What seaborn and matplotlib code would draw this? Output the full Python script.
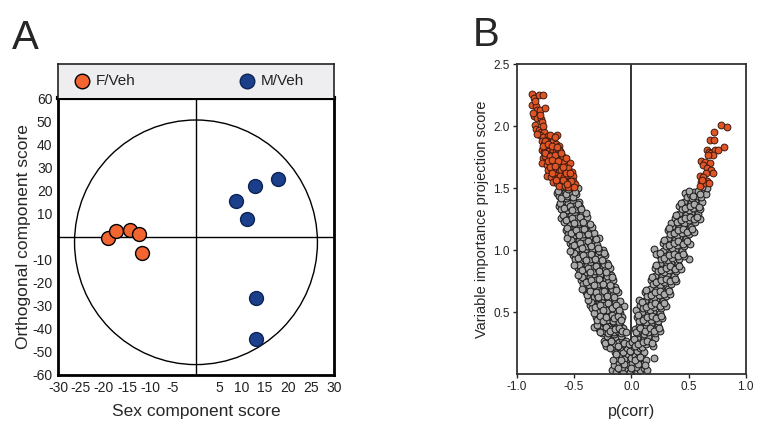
import pandas as pd
import matplotlib.pyplot as plt
import seaborn as sns
from matplotlib.patches import Ellipse

# ---------------- data ----------------
# Panel A: OPLS-DA scores
f_veh_sex = [-19.1, -17.4, -14.4, -12.3, -11.8]
f_veh_orth = [-0.5, 2.4, 2.8, 1.2, -7.0]
m_veh_sex = [8.8, 11.1, 12.8, 17.8, 13.0, 13.0]
m_veh_orth = [15.4, 7.7, 22.0, 24.8, -26.8, -44.3]
groups = ["F/Veh", "M/Veh"]
xticks_a = [-30, -25, -20, -15, -10, -5, 5, 10, 15, 20, 25, 30]
yticks_a = [-60, -50, -40, -30, -20, -10, 10, 20, 30, 40, 50, 60]

# Panel B: p(corr) vs VIP, (pcorr, vip)
grey_bottom = [
    (-0.17, 0.03), (-0.13, 0.02), (-0.10, 0.04), (-0.07, 0.02), (-0.04, 0.05), (-0.01, 0.02),
    (0.02, 0.04), (0.05, 0.02), (0.08, 0.03), (0.11, 0.05), (0.14, 0.03),
    (-0.15, 0.07), (-0.11, 0.09), (-0.08, 0.06), (-0.05, 0.10), (-0.02, 0.07), (0.01, 0.09),
    (0.04, 0.06), (0.07, 0.10), (0.10, 0.08), (0.13, 0.11),
    (-0.12, 0.13), (-0.09, 0.15), (-0.06, 0.12), (-0.03, 0.16), (0.00, 0.13), (0.03, 0.15),
    (0.06, 0.13), (0.09, 0.16),
    (-0.14, 0.18), (-0.10, 0.20), (-0.07, 0.18), (-0.04, 0.21), (-0.01, 0.19), (0.02, 0.22),
    (0.05, 0.19), (0.08, 0.21), (0.11, 0.18),
    (-0.16, 0.11), (-0.12, 0.05), (-0.06, 0.08), (0.00, 0.05), (0.06, 0.08), (0.12, 0.07),
    (-0.09, 0.11), (0.03, 0.11), (-0.13, 0.16), (0.08, 0.14),
]
grey_left = [
    (-0.24, 0.27), (-0.22, 0.23), (-0.20, 0.29), (-0.19, 0.25), (-0.17, 0.22), (-0.16, 0.28),
    (-0.14, 0.24), (-0.13, 0.30), (-0.11, 0.26), (-0.10, 0.22), (-0.08, 0.28), (-0.07, 0.24),
    (-0.05, 0.27), (-0.21, 0.31), (-0.15, 0.32), (-0.09, 0.31),
    (-0.28, 0.36), (-0.26, 0.33), (-0.25, 0.39), (-0.23, 0.35), (-0.21, 0.37), (-0.20, 0.33),
    (-0.18, 0.40), (-0.17, 0.36), (-0.15, 0.34), (-0.13, 0.38), (-0.12, 0.35), (-0.10, 0.40),
    (-0.09, 0.33), (-0.07, 0.37), (-0.24, 0.41), (-0.16, 0.42), (-0.33, 0.38),
    (-0.31, 0.46), (-0.29, 0.43), (-0.28, 0.49), (-0.26, 0.45), (-0.24, 0.42), (-0.23, 0.48),
    (-0.21, 0.44), (-0.19, 0.50), (-0.18, 0.46), (-0.16, 0.43), (-0.14, 0.48), (-0.13, 0.45),
    (-0.11, 0.42), (-0.10, 0.49), (-0.08, 0.46), (-0.27, 0.52), (-0.20, 0.53), (-0.06, 0.55),
    (-0.36, 0.56), (-0.34, 0.53), (-0.33, 0.59), (-0.31, 0.55), (-0.29, 0.52), (-0.28, 0.58),
    (-0.26, 0.54), (-0.24, 0.60), (-0.23, 0.56), (-0.21, 0.52), (-0.19, 0.58), (-0.18, 0.55),
    (-0.16, 0.51), (-0.14, 0.57), (-0.12, 0.54), (-0.10, 0.59), (-0.30, 0.61), (-0.22, 0.62),
    (-0.40, 0.66), (-0.38, 0.63), (-0.37, 0.69), (-0.35, 0.65), (-0.33, 0.62), (-0.32, 0.68),
    (-0.30, 0.64), (-0.28, 0.70), (-0.27, 0.66), (-0.25, 0.63), (-0.23, 0.69), (-0.22, 0.65),
    (-0.20, 0.61), (-0.18, 0.67), (-0.16, 0.64), (-0.14, 0.70), (-0.12, 0.66), (-0.34, 0.71),
    (-0.26, 0.72),
    (-0.44, 0.76), (-0.42, 0.73), (-0.41, 0.79), (-0.39, 0.75), (-0.37, 0.72), (-0.36, 0.78),
    (-0.34, 0.74), (-0.32, 0.80), (-0.31, 0.76), (-0.29, 0.73), (-0.27, 0.79), (-0.26, 0.75),
    (-0.24, 0.71), (-0.22, 0.77), (-0.20, 0.74), (-0.18, 0.80), (-0.16, 0.76), (-0.38, 0.82),
    (-0.30, 0.83),
    (-0.47, 0.86), (-0.45, 0.83), (-0.44, 0.89), (-0.42, 0.85), (-0.40, 0.82), (-0.39, 0.88),
    (-0.37, 0.84), (-0.35, 0.90), (-0.34, 0.86), (-0.32, 0.83), (-0.30, 0.89), (-0.29, 0.85),
    (-0.27, 0.81), (-0.25, 0.87), (-0.23, 0.84), (-0.21, 0.90), (-0.19, 0.86), (-0.41, 0.92),
    (-0.33, 0.93),
    (-0.51, 0.96), (-0.49, 0.93), (-0.48, 0.99), (-0.46, 0.95), (-0.44, 0.92), (-0.43, 0.98),
    (-0.41, 0.94), (-0.39, 1.00), (-0.38, 0.96), (-0.36, 0.93), (-0.34, 0.99), (-0.33, 0.95),
    (-0.31, 0.91), (-0.29, 0.97), (-0.27, 0.94), (-0.25, 1.00), (-0.23, 0.96), (-0.45, 1.02),
    (-0.37, 1.03),
    (-0.54, 1.06), (-0.52, 1.03), (-0.51, 1.09), (-0.49, 1.05), (-0.47, 1.02), (-0.46, 1.08),
    (-0.44, 1.04), (-0.42, 1.10), (-0.41, 1.06), (-0.39, 1.03), (-0.37, 1.09), (-0.36, 1.05),
    (-0.34, 1.01), (-0.32, 1.07), (-0.30, 1.04), (-0.28, 1.10), (-0.48, 1.12), (-0.40, 1.13),
    (-0.57, 1.16), (-0.55, 1.13), (-0.54, 1.19), (-0.52, 1.15), (-0.50, 1.12), (-0.49, 1.18),
    (-0.47, 1.14), (-0.45, 1.20), (-0.44, 1.16), (-0.42, 1.13), (-0.40, 1.19), (-0.39, 1.15),
    (-0.37, 1.11), (-0.35, 1.17), (-0.33, 1.14), (-0.51, 1.22), (-0.43, 1.23),
    (-0.61, 1.26), (-0.59, 1.23), (-0.58, 1.29), (-0.56, 1.25), (-0.54, 1.22), (-0.53, 1.28),
    (-0.51, 1.24), (-0.49, 1.30), (-0.48, 1.26), (-0.46, 1.23), (-0.44, 1.29), (-0.43, 1.25),
    (-0.41, 1.21), (-0.39, 1.27), (-0.55, 1.32), (-0.47, 1.33),
    (-0.63, 1.36), (-0.61, 1.33), (-0.60, 1.39), (-0.58, 1.35), (-0.56, 1.32), (-0.55, 1.38),
    (-0.53, 1.34), (-0.51, 1.40), (-0.50, 1.36), (-0.48, 1.33), (-0.46, 1.39), (-0.45, 1.35),
    (-0.43, 1.31), (-0.57, 1.42), (-0.52, 1.43),
    (-0.65, 1.46), (-0.63, 1.44), (-0.62, 1.49), (-0.60, 1.45), (-0.58, 1.47), (-0.56, 1.44),
    (-0.54, 1.48), (-0.52, 1.46), (-0.50, 1.49), (-0.48, 1.45), (-0.47, 1.50), (-0.59, 1.51),
    (-0.53, 1.51),
]
grey_left_extra = [
    (-0.23, 0.25), (-0.18, 0.27), (-0.12, 0.23), (-0.06, 0.25), (-0.02, 0.24), (-0.19, 0.21),
    (-0.27, 0.34), (-0.22, 0.38), (-0.19, 0.35), (-0.14, 0.36), (-0.11, 0.37), (-0.08, 0.35),
    (-0.05, 0.34), (-0.30, 0.40),
    (-0.30, 0.44), (-0.27, 0.47), (-0.25, 0.43), (-0.22, 0.46), (-0.17, 0.48), (-0.15, 0.45),
    (-0.12, 0.47), (-0.09, 0.44), (-0.33, 0.49),
    (-0.35, 0.58), (-0.32, 0.54), (-0.27, 0.56), (-0.25, 0.52), (-0.20, 0.57), (-0.17, 0.53),
    (-0.13, 0.56), (-0.11, 0.52), (-0.38, 0.60),
    (-0.39, 0.64), (-0.36, 0.67), (-0.31, 0.66), (-0.29, 0.62), (-0.24, 0.67), (-0.21, 0.63),
    (-0.17, 0.69), (-0.15, 0.62), (-0.13, 0.68), (-0.43, 0.69),
    (-0.43, 0.78), (-0.40, 0.74), (-0.35, 0.76), (-0.33, 0.72), (-0.28, 0.77), (-0.25, 0.73),
    (-0.21, 0.79), (-0.19, 0.72), (-0.17, 0.78), (-0.47, 0.80),
    (-0.46, 0.88), (-0.43, 0.84), (-0.38, 0.86), (-0.36, 0.82), (-0.31, 0.87), (-0.28, 0.83),
    (-0.24, 0.89), (-0.22, 0.82), (-0.20, 0.88), (-0.50, 0.88),
    (-0.50, 0.98), (-0.47, 0.94), (-0.42, 0.96), (-0.40, 0.92), (-0.35, 0.97), (-0.32, 0.93),
    (-0.28, 0.99), (-0.26, 0.92), (-0.24, 0.98), (-0.54, 0.99),
    (-0.53, 1.08), (-0.50, 1.04), (-0.45, 1.06), (-0.43, 1.02), (-0.38, 1.07), (-0.35, 1.03),
    (-0.31, 1.09), (-0.29, 1.02), (-0.56, 1.10),
    (-0.56, 1.18), (-0.53, 1.14), (-0.48, 1.16), (-0.46, 1.12), (-0.41, 1.17), (-0.38, 1.13),
    (-0.34, 1.19), (-0.36, 1.21),
    (-0.60, 1.28), (-0.57, 1.24), (-0.52, 1.26), (-0.50, 1.22), (-0.45, 1.27), (-0.42, 1.23),
    (-0.40, 1.30),
    (-0.62, 1.38), (-0.59, 1.34), (-0.54, 1.36), (-0.52, 1.32), (-0.47, 1.37), (-0.44, 1.33),
    (-0.64, 1.48), (-0.61, 1.42), (-0.57, 1.45), (-0.55, 1.49), (-0.51, 1.43), (-0.49, 1.47),
]
grey_right = [
    (0.01, 0.26), (0.03, 0.23), (0.05, 0.29), (0.07, 0.25), (0.09, 0.22), (0.11, 0.28),
    (0.13, 0.24), (0.15, 0.30), (0.17, 0.26), (0.19, 0.23), (0.21, 0.29), (0.20, 0.13),
    (0.03, 0.36), (0.05, 0.33), (0.07, 0.39), (0.09, 0.35), (0.11, 0.32), (0.13, 0.38),
    (0.15, 0.34), (0.17, 0.40), (0.19, 0.36), (0.21, 0.33), (0.23, 0.39), (0.25, 0.35),
    (0.05, 0.46), (0.07, 0.43), (0.09, 0.49), (0.11, 0.45), (0.13, 0.42), (0.15, 0.48),
    (0.17, 0.44), (0.19, 0.50), (0.21, 0.46), (0.23, 0.43), (0.25, 0.49), (0.27, 0.45),
    (0.04, 0.52),
    (0.08, 0.56), (0.10, 0.53), (0.12, 0.59), (0.14, 0.55), (0.16, 0.52), (0.18, 0.58),
    (0.20, 0.54), (0.22, 0.60), (0.24, 0.56), (0.26, 0.53), (0.28, 0.59), (0.30, 0.55),
    (0.07, 0.60),
    (0.12, 0.66), (0.14, 0.63), (0.16, 0.69), (0.18, 0.65), (0.20, 0.62), (0.22, 0.68),
    (0.24, 0.64), (0.26, 0.70), (0.28, 0.66), (0.30, 0.63), (0.32, 0.69), (0.34, 0.65),
    (0.17, 0.76), (0.19, 0.73), (0.21, 0.79), (0.23, 0.75), (0.25, 0.72), (0.27, 0.78),
    (0.29, 0.74), (0.31, 0.80), (0.33, 0.76), (0.35, 0.73), (0.37, 0.79), (0.39, 0.75),
    (0.21, 0.86), (0.23, 0.83), (0.25, 0.89), (0.27, 0.85), (0.29, 0.82), (0.31, 0.88),
    (0.33, 0.84), (0.35, 0.90), (0.37, 0.86), (0.39, 0.83), (0.41, 0.89), (0.43, 0.85),
    (0.50, 0.93),
    (0.24, 0.96), (0.26, 0.93), (0.28, 0.99), (0.30, 0.95), (0.32, 0.92), (0.34, 0.98),
    (0.36, 0.94), (0.38, 1.00), (0.40, 0.96), (0.42, 0.93), (0.44, 0.99), (0.46, 0.95),
    (0.20, 1.01), (0.22, 0.97),
    (0.28, 1.06), (0.30, 1.03), (0.32, 1.09), (0.34, 1.05), (0.36, 1.02), (0.38, 1.08),
    (0.40, 1.04), (0.42, 1.10), (0.44, 1.06), (0.46, 1.03), (0.48, 1.09), (0.51, 1.05),
    (0.32, 1.16), (0.34, 1.13), (0.36, 1.19), (0.38, 1.15), (0.40, 1.12), (0.42, 1.18),
    (0.44, 1.14), (0.46, 1.20), (0.48, 1.16), (0.50, 1.13), (0.52, 1.19), (0.55, 1.15),
    (0.35, 1.22), (0.38, 1.26), (0.40, 1.23), (0.42, 1.29), (0.44, 1.25), (0.46, 1.22),
    (0.48, 1.28), (0.50, 1.24), (0.52, 1.30), (0.54, 1.26), (0.56, 1.23), (0.58, 1.29),
    (0.60, 1.25),
    (0.42, 1.36), (0.44, 1.33), (0.46, 1.39), (0.48, 1.35), (0.50, 1.32), (0.52, 1.38),
    (0.54, 1.34), (0.56, 1.40), (0.58, 1.36), (0.60, 1.33), (0.62, 1.39),
    (0.47, 1.46), (0.49, 1.43), (0.51, 1.45), (0.53, 1.42), (0.55, 1.47), (0.57, 1.44),
    (0.59, 1.46), (0.61, 1.43), (0.63, 1.48), (0.65, 1.45), (0.66, 1.50), (0.62, 1.51),
]
grey_right_extra = [
    (0.02, 0.28), (0.06, 0.24), (0.10, 0.26), (0.14, 0.27), (0.18, 0.25),
    (0.04, 0.34), (0.08, 0.37), (0.12, 0.35), (0.16, 0.37), (0.20, 0.35), (0.24, 0.37),
    (0.06, 0.48), (0.10, 0.44), (0.14, 0.46), (0.18, 0.47), (0.22, 0.45), (0.26, 0.47),
    (0.09, 0.58), (0.13, 0.54), (0.17, 0.56), (0.21, 0.57), (0.25, 0.55), (0.29, 0.57),
    (0.13, 0.68), (0.17, 0.64), (0.21, 0.66), (0.25, 0.67), (0.29, 0.65), (0.33, 0.67),
    (0.18, 0.78), (0.22, 0.74), (0.26, 0.76), (0.30, 0.77), (0.34, 0.75), (0.38, 0.77),
    (0.22, 0.88), (0.26, 0.84), (0.30, 0.86), (0.34, 0.87), (0.38, 0.85), (0.42, 0.87),
    (0.25, 0.98), (0.29, 0.94), (0.33, 0.96), (0.37, 0.97), (0.41, 0.95), (0.45, 0.97),
    (0.29, 1.08), (0.33, 1.04), (0.37, 1.06), (0.41, 1.07), (0.45, 1.05), (0.49, 1.07),
    (0.33, 1.18), (0.37, 1.14), (0.41, 1.16), (0.45, 1.17), (0.49, 1.15), (0.53, 1.17),
    (0.39, 1.28), (0.43, 1.24), (0.47, 1.26), (0.51, 1.27), (0.55, 1.25), (0.57, 1.27),
    (0.43, 1.38), (0.47, 1.34), (0.51, 1.36), (0.55, 1.37), (0.59, 1.35),
    (0.50, 1.48), (0.54, 1.44), (0.58, 1.48), (0.60, 1.45),
]
orange_left = [
    (-0.87, 2.26), (-0.85, 2.23), (-0.81, 2.25), (-0.77, 2.25),
    (-0.87, 2.17), (-0.83, 2.16), (-0.82, 2.13), (-0.80, 2.13), (-0.75, 2.15),
    (-0.85, 2.08), (-0.82, 2.07), (-0.79, 2.06), (-0.78, 2.03),
    (-0.84, 2.01), (-0.83, 1.98), (-0.81, 1.97), (-0.79, 1.95), (-0.76, 1.95),
    (-0.80, 1.93), (-0.77, 1.91), (-0.73, 1.92), (-0.70, 1.90), (-0.65, 1.93),
    (-0.78, 1.88), (-0.76, 1.86), (-0.74, 1.89), (-0.72, 1.85), (-0.70, 1.87), (-0.68, 1.88),
    (-0.66, 1.86), (-0.63, 1.84),
    (-0.78, 1.81), (-0.76, 1.79), (-0.74, 1.82), (-0.72, 1.80), (-0.70, 1.78), (-0.68, 1.81),
    (-0.66, 1.79), (-0.64, 1.82), (-0.62, 1.80), (-0.73, 1.77), (-0.69, 1.76),
    (-0.77, 1.74), (-0.75, 1.76), (-0.71, 1.73), (-0.67, 1.74), (-0.65, 1.76), (-0.63, 1.73),
    (-0.60, 1.75), (-0.58, 1.72),
    (-0.78, 1.70), (-0.74, 1.69), (-0.70, 1.71), (-0.68, 1.68), (-0.66, 1.70), (-0.62, 1.69),
    (-0.59, 1.71), (-0.56, 1.68), (-0.54, 1.70),
    (-0.73, 1.65), (-0.69, 1.64), (-0.66, 1.66), (-0.63, 1.63), (-0.61, 1.65), (-0.58, 1.64),
    (-0.55, 1.66), (-0.52, 1.63),
    (-0.74, 1.60), (-0.70, 1.59), (-0.67, 1.61), (-0.64, 1.58), (-0.62, 1.60), (-0.59, 1.59),
    (-0.56, 1.61), (-0.53, 1.58), (-0.51, 1.60),
    (-0.68, 1.55), (-0.65, 1.54), (-0.62, 1.56), (-0.59, 1.53), (-0.57, 1.55), (-0.54, 1.54),
    (-0.51, 1.56), (-0.49, 1.53),
    (-0.63, 1.52), (-0.58, 1.52), (-0.55, 1.51), (-0.50, 1.51),
    (-0.84, 2.20), (-0.86, 2.11), (-0.80, 2.09), (-0.77, 2.00), (-0.82, 1.94), (-0.75, 1.88),
    (-0.71, 1.93), (-0.67, 1.91), (-0.77, 1.84), (-0.73, 1.86), (-0.69, 1.84), (-0.65, 1.83),
    (-0.75, 1.78), (-0.71, 1.76), (-0.67, 1.77), (-0.61, 1.78), (-0.73, 1.72), (-0.69, 1.73),
    (-0.64, 1.72), (-0.57, 1.74), (-0.71, 1.67), (-0.67, 1.68), (-0.60, 1.67), (-0.57, 1.62),
    (-0.54, 1.62), (-0.69, 1.62), (-0.60, 1.57), (-0.66, 1.57), (-0.53, 1.56), (-0.56, 1.53),
]
orange_right = [
    (0.78, 2.01), (0.84, 1.99), (0.72, 1.95), (0.69, 1.89), (0.72, 1.89), (0.81, 1.83),
    (0.66, 1.81), (0.68, 1.79), (0.70, 1.78), (0.73, 1.81), (0.76, 1.81), (0.715, 1.77),
    (0.67, 1.77),
    (0.61, 1.72), (0.64, 1.71), (0.69, 1.70), (0.63, 1.69), (0.66, 1.66), (0.70, 1.65),
    (0.715, 1.62), (0.65, 1.62),
    (0.60, 1.60), (0.63, 1.59), (0.66, 1.56), (0.61, 1.55), (0.64, 1.54), (0.68, 1.54),
    (0.60, 1.52), (0.62, 1.57),
]
xticks_b = [-1.0, -0.5, 0.0, 0.5, 1.0]
yticks_b = [0.5, 1.0, 1.5, 2.0, 2.5]

# ---------------- style ----------------
sns.set_style("white")
plt.rcParams["font.family"] = ["Liberation Sans", "DejaVu Sans"]
plt.rcParams["axes.unicode_minus"] = False

ORANGE_A = "#f26430"
BLUE_A = "#1c3f8c"
ORANGE_B = "#e05526"
GREY_B = "#aaaaaa"

fig = plt.figure(figsize=(7.68, 4.34), dpi=100)

# ---------------- panel A ----------------
dfA = pd.DataFrame({
    "sex": f_veh_sex + m_veh_sex,
    "orth": f_veh_orth + m_veh_orth,
    "group": ["F/Veh"] * len(f_veh_sex) + ["M/Veh"] * len(m_veh_sex),
})
axA = fig.add_axes([0.0755, 0.136, 0.3594, 0.638])
axA.add_patch(Ellipse((0, -2.5), width=52.8, height=106, fill=False,
                      edgecolor="black", lw=1.0, zorder=1))
axA.axhline(0, color="black", lw=1.0, zorder=1)
axA.axvline(0, color="black", lw=1.0, zorder=1)
sns.scatterplot(data=dfA[dfA.group == "F/Veh"], x="sex", y="orth", color=ORANGE_A,
                edgecolor="black", linewidth=1.0, s=100, ax=axA, zorder=3)
sns.scatterplot(data=dfA[dfA.group == "M/Veh"], x="sex", y="orth", color=BLUE_A,
                edgecolor="#0c2356", linewidth=1.0, s=100, ax=axA, zorder=3)
axA.set_xlim(-30, 30)
axA.set_ylim(-60, 60)
axA.set_xticks(xticks_a)
axA.set_yticks(yticks_a)
axA.tick_params(length=0, labelsize=10, pad=4, colors="#222222")
axA.set_xlabel("Sex component score", fontsize=12.5, labelpad=7)
axA.set_ylabel("Orthogonal component score", fontsize=12.5, labelpad=1)
for side, sp in axA.spines.items():
    sp.set_visible(True)
    sp.set_color("black")
    sp.set_linewidth(2.0)
axA.spines["top"].set_linewidth(3.0)

# legend strip above panel A
axL = fig.add_axes([0.0755, 0.774, 0.3594, 0.078])
axL.set_facecolor("#eeeef0")
axL.set_xticks([])
axL.set_yticks([])
for side, sp in axL.spines.items():
    sp.set_color("#222222")
    sp.set_linewidth(1.2)
axL.spines["bottom"].set_visible(False)
legend_colors = {"F/Veh": (ORANGE_A, "black"), "M/Veh": (BLUE_A, "#0c2356")}
for xpos, name in zip([0.087, 0.685], groups):
    fc, ec = legend_colors[name]
    axL.scatter([xpos], [0.5], s=110, color=fc, edgecolor=ec, linewidth=1.0,
                transform=axL.transAxes)
    axL.text(xpos + 0.05, 0.5, name, transform=axL.transAxes, va="center",
             ha="left", fontsize=11, color="#222222")
axL.set_xlim(0, 1)
axL.set_ylim(0, 1)

fig.text(12 / 768, 1 - 49 / 434, "A", fontsize=29, ha="left", va="baseline")

# ---------------- panel B ----------------
dfB_grey = pd.DataFrame(grey_bottom + grey_left + grey_left_extra + grey_right + grey_right_extra,
                        columns=["pcorr", "vip"])
dfB_orange = pd.DataFrame(orange_left + orange_right, columns=["pcorr", "vip"])

axB = fig.add_axes([0.673, 0.138, 0.298, 0.714])
axB.axvline(0, color="#333333", lw=1.4, zorder=1)
sns.scatterplot(data=dfB_grey, x="pcorr", y="vip", color=GREY_B, edgecolor="#1e1e1e",
                linewidth=0.75, s=24, ax=axB, zorder=2)
sns.scatterplot(data=dfB_orange, x="pcorr", y="vip", color=ORANGE_B, edgecolor="#3a1a10",
                linewidth=0.7, s=24, ax=axB, zorder=3)
axB.set_xlim(-1, 1)
axB.set_ylim(0, 2.5)
axB.set_xticks(xticks_b)
axB.set_xticklabels([f"{v:.1f}" for v in xticks_b])
axB.set_yticks(yticks_b)
axB.set_yticklabels([f"{v:.1f}" for v in yticks_b])
axB.tick_params(axis="both", length=3, width=1.0, labelsize=8.5, pad=2,
                colors="#222222", direction="out")
axB.tick_params(axis="both", bottom=True, left=True)
axB.set_xlabel("p(corr)", fontsize=11.5, labelpad=8)
axB.set_ylabel("Variable importance projection score", fontsize=10.5, labelpad=3)
for side, sp in axB.spines.items():
    sp.set_visible(True)
    sp.set_color("#333333")
    sp.set_linewidth(1.3)

fig.text(473 / 768, 1 - 46 / 434, "B", fontsize=29, ha="left", va="baseline")

fig.savefig("out.png", dpi=100)
